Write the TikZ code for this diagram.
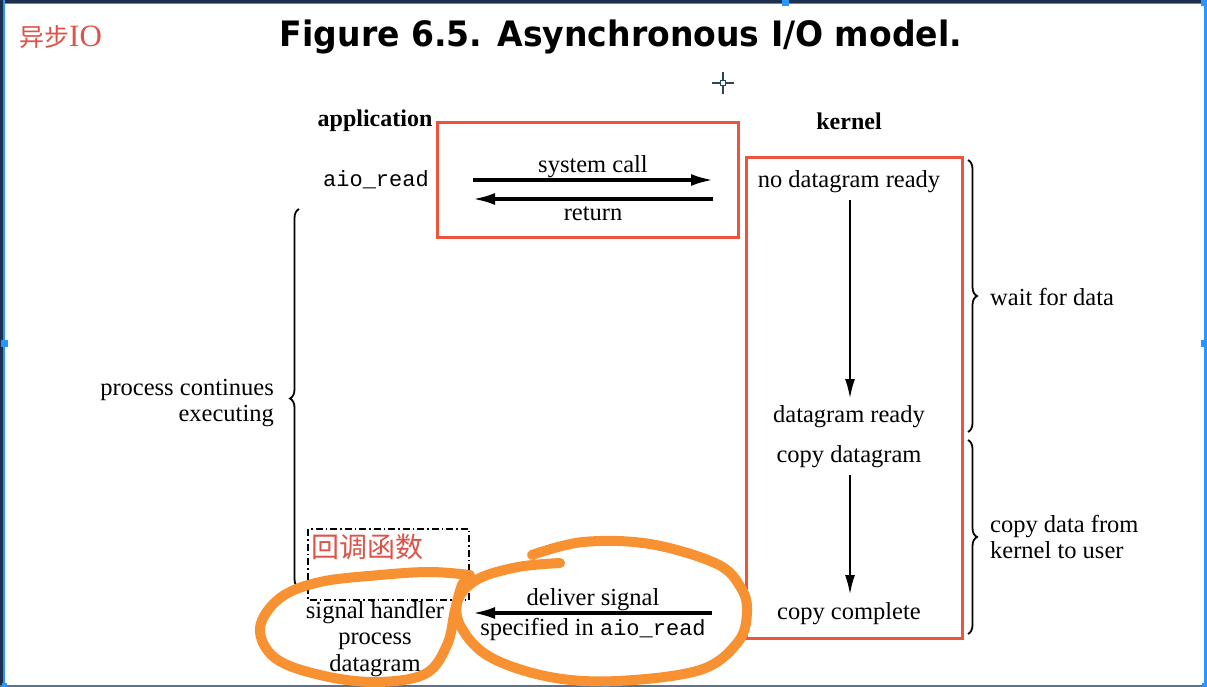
\documentclass[tikz,border=0pt]{standalone}
\usepackage{fontspec}
\setmainfont{Liberation Serif}
\setmonofont{Liberation Mono}
\newfontfamily\cjk{Noto Sans CJK SC}
\newfontfamily\titlefont{DejaVu Sans}
\usetikzlibrary{arrows.meta,decorations.pathreplacing}
\definecolor{redbox}{RGB}{236,84,60}
\definecolor{orng}{RGB}{247,145,50}
\definecolor{redtxt}{RGB}{222,82,72}
\definecolor{frdark}{RGB}{28,48,78}
\definecolor{frblue}{RGB}{40,150,255}
\definecolor{frbot}{RGB}{90,115,140}
\definecolor{cross}{RGB}{40,70,100}
\begin{document}
\begin{tikzpicture}[x=1pt,y=-1pt,
  txt/.style={font=\fontsize{24.5}{26.5}\selectfont, inner sep=0pt, align=center, yshift=-2pt},
  hd/.style={font=\fontsize{24}{26}\selectfont\bfseries, inner sep=0pt, yshift=-2pt},
  mono/.style={font=\fontsize{22}{26}\selectfont\ttfamily, inner sep=0pt},
  redrect/.style={draw=redbox, line width=3pt},
  harrow/.style={line width=3.2pt, -{Latex[length=22pt,width=12pt]}},
  varrow/.style={line width=1.5pt, -{Latex[length=19pt,width=10pt]}},
  bracestyle/.style={line width=1.8pt, decorate, decoration={brace, amplitude=9pt}},
  loop/.style={draw=orng, line width=10pt, line cap=round, line join=round},
  handle/.style={fill=frblue, minimum size=7pt, inner sep=0pt}
]
\useasboundingbox (0,0) rectangle (1207,687);
\fill[white] (0,0) rectangle (1207,687);

% screenshot frame
\fill[frdark] (0,0) rectangle (1207,3);
\fill[frblue] (0,3) rectangle (1207,4.5);
\fill[frdark] (0,0) rectangle (2.5,687);
\fill[frblue] (2.5,0) rectangle (4.5,687);
\fill[frblue] (1203.5,0) rectangle (1207,687);
\fill[frbot] (0,684.5) rectangle (1207,687);
\node[handle] (h1) at (4,343) {};
\node[handle] (h2) at (1204,343) {};
\node[handle] (h3) at (785,3) {};
\node[handle] (h4) at (605,685) {};
\node[handle] (h5) at (1204,3) {};
\node[handle,minimum size=5pt] (h6) at (4,685) {};
\node[handle,minimum size=5pt] (h7) at (1204,685) {};

% cursor crosshair
\coordinate (cc) at (723,83);
\draw[cross, line width=1.2pt] ([yshift=-11pt]cc) -- ([yshift=11pt]cc);
\draw[cross, line width=1.2pt] ([xshift=-11pt]cc) -- ([xshift=11pt]cc);
\node[draw=cross, fill=white, line width=1pt, minimum size=5pt, inner sep=0pt] (ccbox) at (cc) {};

% title and tag
\node[inner sep=0pt] (title) at (621,37) {\resizebox{682pt}{\height}{\fontsize{35}{35}\titlefont\bfseries Figure 6.5. Asynchronous I/O model.}};
\node[inner sep=0pt, text=redtxt, anchor=west] (tag) at (19,37) {\fontsize{25}{25}\cjk 异步\fontsize{31}{31}\rmfamily IO};

% headers
\node[hd] (app) at (375,119) {application};
\node[hd] (ker) at (849,119) {kernel};
\node[mono] (aio) at (376,180) {aio\_read};

% red boxes
\draw[redrect] (437,123) rectangle (738,237);
\draw[redrect] (746,158) rectangle (962,638);

% kernel states
\node[txt] (k1) at (849,180) {no datagram ready};
\node[txt] (k2) at (849,415) {datagram ready};
\node[txt] (k3) at (849,455) {copy datagram};
\node[txt] (k4) at (849,612) {copy complete};
\draw[varrow] (850,200) -- (850,398);
\draw[varrow] (850,475) -- (850,594);

% system call / return
\coordinate (sL) at (473,180);
\coordinate (sR) at (713,180);
\coordinate (rL) at (473,199);
\coordinate (rR) at (713,199);
\draw[harrow] (sL) -- (sR);
\draw[harrow] (rR) -- (rL);
\node[txt] (sc) at (593,165) {system call};
\node[txt] (ret) at (593,212) {return};

% braces
\draw[bracestyle] (968,160) -- (968,432);
\draw[bracestyle] (968,440) -- (968,634);
\draw[bracestyle] (299,588) -- (299,209);
\node[txt, anchor=west] (wait) at (990,295) {wait for data};
\node[txt, anchor=west, align=left] (copyd) at (990,535) {copy data from\\kernel to user};
\node[txt, anchor=east, align=right] (proc) at (274,401) {process continues\\executing};

% callback
\draw[line width=1.2pt, dash pattern=on 7pt off 3pt on 1.5pt off 3pt] (308,529) rectangle (469,600);
\node[inner sep=0pt, text=redtxt] (cb) at (367,547) {\fontsize{28}{28}\cjk 回调函数};
\node[txt] (sh) at (375,637) {signal handler\\process\\datagram};

% deliver signal
\coordinate (dR) at (712,613);
\coordinate (dL) at (473,613);
\draw[harrow] (dR) -- (dL);
\node[txt] (ds) at (593,598) {deliver signal};
\node[txt] (sp) at (593,627) {specified in {\fontsize{22}{26}\selectfont\texttt{aio\_read}}};

% orange hand-drawn loops
\draw[loop] plot[smooth, tension=0.6] coordinates {(470,575) (430,572) (380,575) (320,582) (280,598) (260,628) (275,658) (320,675) (375,682) (425,674) (447,645) (455,610) (462,585) (470,575)};
\draw[loop] plot[smooth, tension=0.6] coordinates {(560,563) (518,567) (478,579) (458,600) (461,627) (490,657) (550,677) (617,681) (700,670) (738,642) (747,612) (741,588) (717,564) (650,544) (583,542) (532,555)};
\end{tikzpicture}
\end{document}
